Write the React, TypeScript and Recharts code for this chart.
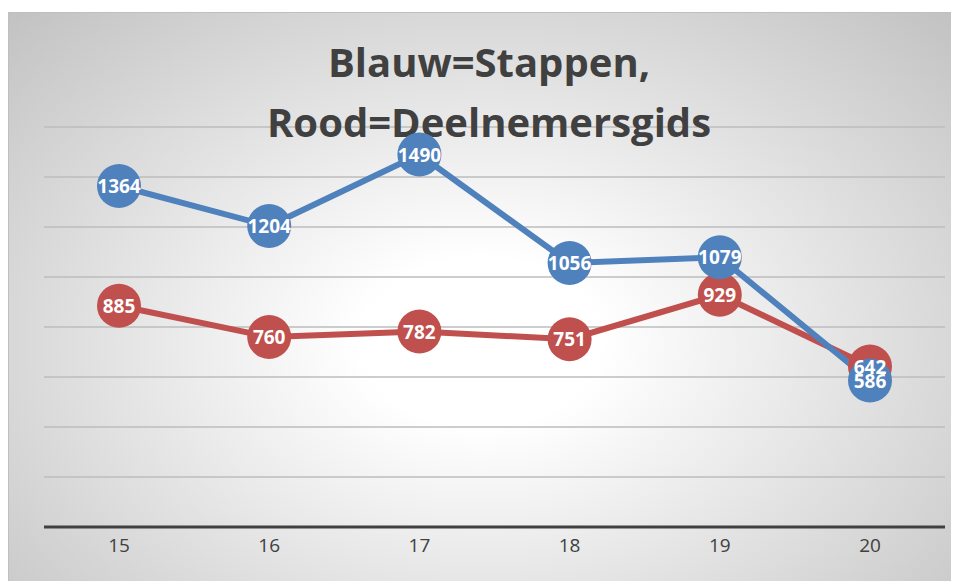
import { CartesianGrid, LabelList, Line, LineChart, XAxis, YAxis } from "recharts";

const weken = ["15", "16", "17", "18", "19", "20"];
const stappen = [1364, 1204, 1490, 1056, 1079, 586];
const deelnemersgids = [885, 760, 782, 751, 929, 642];
const yTicks = [0, 200, 400, 600, 800, 1000, 1200, 1400, 1600];

const BLAUW = "#4F81BD";
const ROOD = "#C0504D";
const FONT = "'Open Sans', 'DejaVu Sans', sans-serif";
const MARGIN = { top: 114, right: 8, left: 35, bottom: 24 };

const data = weken.map((w, i) => ({ week: w, stappen: stappen[i], deelnemersgids: deelnemersgids[i] }));

function Waarde(props: any) {
  const { x, y, value } = props;
  return (
    <text
      x={x}
      y={y}
      textAnchor="middle"
      dominantBaseline="central"
      fill="#ffffff"
      fontFamily={FONT}
      fontWeight={700}
      fontSize={19}
    >
      {value}
    </text>
  );
}

const laag = { position: "absolute" as const, left: 0, top: 0 };

export default function App() {
  return (
    <div
      style={{
        position: "relative",
        marginTop: 4,
        width: 946,
        height: 570,
        boxSizing: "border-box",
        border: "1px solid #bfbfbf",
        background: "radial-gradient(ellipse farthest-corner at 50% 58%, #ffffff 18%, #c2c2c2 100%)",
        fontFamily: FONT,
      }}
    >
      {/* rasterlijnen onder de titel */}
      <div style={laag}>
        <LineChart width={944} height={568} data={data} margin={MARGIN}>
          <CartesianGrid vertical={false} stroke="#bcbcbc" strokeWidth={1.5} />
          <XAxis dataKey="week" height={30} padding={{ left: 75, right: 75 }} tick={false} tickLine={false} axisLine={false} />
          <YAxis hide domain={[0, 1600]} ticks={yTicks} />
          <Line dataKey="stappen" stroke="none" dot={false} legendType="none" isAnimationActive={false} />
        </LineChart>
      </div>
      <svg width={944} height={568} style={laag}>
        <text x={480} y={64} textAnchor="middle" fill="#404040" fontFamily={FONT} fontWeight={700} fontSize={40}>
          Blauw=Stappen,
        </text>
        <text x={480} y={124} textAnchor="middle" fill="#404040" fontFamily={FONT} fontWeight={700} fontSize={40}>
          Rood=Deelnemersgids
        </text>
      </svg>
      <div style={laag}>
        <LineChart width={944} height={568} data={data} margin={MARGIN}>
          <XAxis
            dataKey="week"
            height={30}
            padding={{ left: 75, right: 75 }}
            tickLine={false}
            axisLine={{ stroke: "#404040", strokeWidth: 3 }}
            tick={{ fontSize: 19, fill: "#404040", fontFamily: FONT }}
            tickMargin={6}
          />
          <YAxis hide domain={[0, 1600]} ticks={yTicks} />
          <Line
            dataKey="deelnemersgids"
            stroke={ROOD}
            strokeWidth={6}
            dot={{ r: 22, fill: ROOD, stroke: "none" }}
            isAnimationActive={false}
          />
          <Line
            dataKey="stappen"
            stroke={BLAUW}
            strokeWidth={6}
            dot={{ r: 22, fill: BLAUW, stroke: "none" }}
            isAnimationActive={false}
          />
          <Line dataKey="deelnemersgids" stroke="none" dot={false} legendType="none" isAnimationActive={false}>
            <LabelList dataKey="deelnemersgids" content={<Waarde />} />
          </Line>
          <Line dataKey="stappen" stroke="none" dot={false} legendType="none" isAnimationActive={false}>
            <LabelList dataKey="stappen" content={<Waarde />} />
          </Line>
        </LineChart>
      </div>
    </div>
  );
}
